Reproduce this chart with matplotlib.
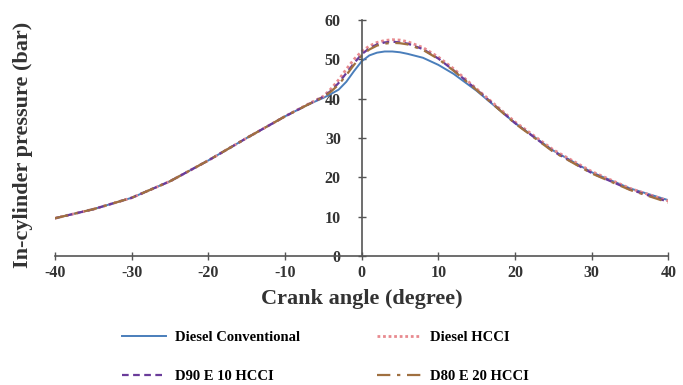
import matplotlib
matplotlib.use("Agg")
import matplotlib.pyplot as plt

# crank angle (degree)
angle = [-40, -35, -30, -25, -20, -15, -10, -7, -5, -4, -3, -2, -1, 0, 1, 2, 3, 4, 5, 6,
         8, 10, 12, 15, 20, 25, 30, 35, 40]

# in-cylinder pressure (bar)
diesel_conv = [9.6, 11.9, 14.8, 19.0, 24.3, 30.0, 35.5, 38.5, 40.2, 41.2, 42.3, 44.3, 47.0,
               49.5, 51.0, 51.7, 52.0, 52.0, 51.8, 51.4, 50.4, 48.6, 46.3, 42.0, 33.8, 26.8,
               21.3, 17.2, 14.2]
diesel_hcci = [9.6, 11.9, 14.8, 19.0, 24.3, 30.0, 35.5, 38.6, 40.6, 42.5, 44.8, 47.5, 50.0,
               52.0, 53.4, 54.3, 54.8, 55.0, 54.9, 54.5, 53.0, 50.6, 47.6, 42.5, 34.1, 27.0,
               21.5, 17.2, 14.0]
d90_e10 = [9.6, 11.9, 14.8, 19.0, 24.3, 30.0, 35.5, 38.5, 40.5, 42.0, 44.0, 46.5, 49.0,
           51.3, 52.8, 53.8, 54.3, 54.5, 54.3, 54.0, 52.6, 50.2, 47.2, 42.3, 33.8, 26.6,
           21.1, 16.9, 13.8]
d80_e20 = [9.6, 11.9, 14.8, 19.0, 24.3, 30.0, 35.5, 38.5, 40.4, 41.8, 43.6, 46.0, 48.6,
           51.0, 52.5, 53.5, 54.0, 54.2, 54.1, 53.8, 52.4, 50.1, 47.1, 42.2, 33.7, 26.5,
           21.0, 16.8, 13.6]

plt.rcParams['font.family'] = ['Liberation Serif', 'DejaVu Serif']
plt.rcParams['font.weight'] = 'bold'
plt.rcParams['axes.unicode_minus'] = False

fig = plt.figure(figsize=(6.83, 3.85), dpi=100)
ax = fig.add_axes([0.0805, 0.335, 0.898, 0.613])

ax.plot(angle, diesel_conv, color='#4a7ebb', lw=1.4, label='Diesel Conventional')
ax.plot(angle, diesel_hcci, color='#e88a8f', lw=2.0, ls=(0, (1, 1)), label='Diesel HCCI')
ax.plot(angle, d90_e10, color='#6a3c9a', lw=1.6, ls=(0, (3, 2)), label='D90 E 10 HCCI')
ax.plot(angle, d80_e20, color='#a07040', lw=1.6, ls=(0, (6, 3, 1.5, 3)), label='D80 E 20 HCCI')

ax.set_xlim(-40, 40)
ax.set_ylim(0, 60)
ax.set_xticks(range(-40, 41, 10))
ax.set_yticks(range(0, 61, 10))

ax.spines['left'].set_position(('data', 0))
ax.spines['right'].set_visible(False)
ax.spines['top'].set_visible(False)
for s in ('left', 'bottom'):
    ax.spines[s].set_color('#555555')
    ax.spines[s].set_linewidth(1.2)
ax.tick_params(direction='inout', length=6, width=1, colors='#555555', labelcolor='#333333',
               labelsize=11.5)
ax.tick_params(axis='y', pad=12)

ax.set_xlabel('Crank angle (degree)', fontsize=16, fontweight='bold', color='#333333', labelpad=6)
fig.text(0.033, 0.625, 'In-cylinder pressure (bar)', rotation=90, ha='center', va='center',
         fontsize=16, fontweight='bold', color='#333333')

# legend filled row by row: (conv, hcci) then (d90, d80)
h, l = ax.get_legend_handles_labels()
order = [0, 2, 1, 3]
fig.legend([h[i] for i in order], [l[i] for i in order],
           loc='upper left', bbox_to_anchor=(0.16, 0.175), ncol=2, frameon=False,
           fontsize=10.5, handlelength=3.0, columnspacing=5.3, labelspacing=1.75,
           handletextpad=0.6)

fig.savefig('out.png', dpi=100)
